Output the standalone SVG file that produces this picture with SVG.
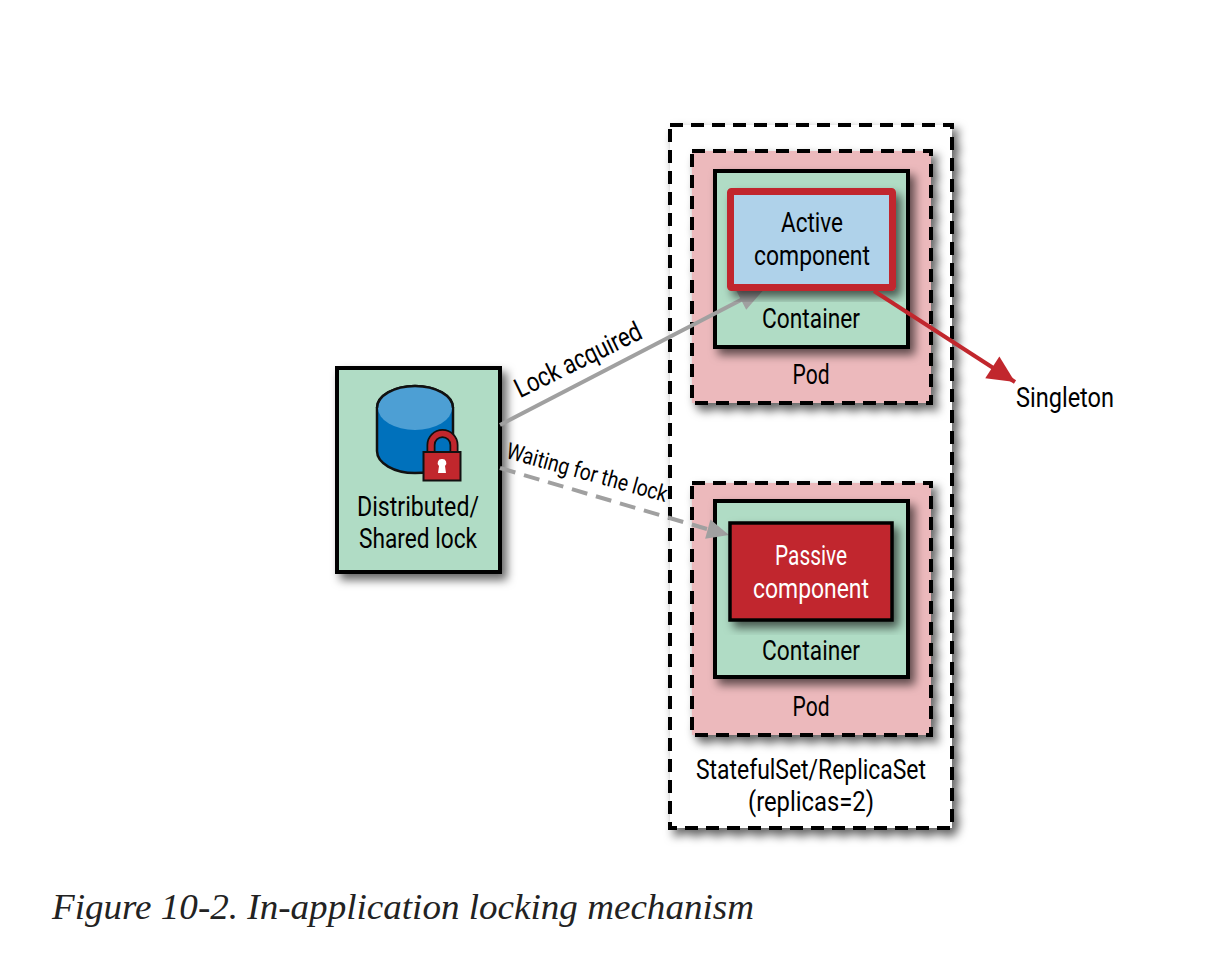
<svg xmlns="http://www.w3.org/2000/svg" width="1230" height="966" viewBox="0 0 1230 966">
<style>
.t{font-family:Roboto,"Open Sans",sans-serif;font-size:27px;fill:#000;text-anchor:middle}
.dash{stroke:#000;stroke-width:4;stroke-dasharray:13 8;filter:url(#sh)}
.solid{stroke:#000;stroke-width:4;filter:url(#sh)}
.g{fill:#b0dcc5}.p{fill:#ecb9bc}
</style>
<defs>
<filter id="sh" x="-15%" y="-15%" width="130%" height="130%"><feDropShadow dx="5" dy="6" stdDeviation="5" flood-color="#000" flood-opacity="0.6"/></filter>
<marker id="ag" markerUnits="userSpaceOnUse" markerWidth="32" markerHeight="28" refX="30" refY="14" orient="auto"><path d="M2 3L30 14L2 25Z" fill="#a0a0a0"/></marker>
<marker id="agd" markerUnits="userSpaceOnUse" markerWidth="26" markerHeight="24" refX="24" refY="12" orient="auto"><path d="M2 2L24 12L2 22Z" fill="#a0a0a0"/></marker>
<marker id="ar" markerUnits="userSpaceOnUse" markerWidth="32" markerHeight="28" refX="30" refY="14" orient="auto"><path d="M3 1L30 14L3 27Z" fill="#c1272d"/></marker>
</defs>
<rect width="1230" height="966" fill="#fff"/>
<g id="replicaset"><rect x="670" y="125" width="282" height="703" fill="#fff" class="dash"/>
<text class="t" x="811" y="779" textLength="230" lengthAdjust="spacingAndGlyphs">StatefulSet/ReplicaSet</text>
<text class="t" x="811" y="811" textLength="126" lengthAdjust="spacingAndGlyphs">(replicas=2)</text></g>
<g id="pod1"><rect x="692" y="151" width="239" height="252" class="p dash"/>
<text class="t" x="811" y="384" textLength="37" lengthAdjust="spacingAndGlyphs">Pod</text></g>
<g id="container1"><rect x="715" y="171" width="193" height="176" class="g solid"/>
<text class="t" x="811" y="328" textLength="98" lengthAdjust="spacingAndGlyphs">Container</text></g>
<g id="pod2"><rect x="692" y="483" width="239" height="252" class="p dash"/>
<text class="t" x="811" y="716" textLength="37" lengthAdjust="spacingAndGlyphs">Pod</text></g>
<g id="container2"><rect x="715" y="501" width="193" height="176" class="g solid"/>
<text class="t" x="811" y="660" textLength="98" lengthAdjust="spacingAndGlyphs">Container</text></g>
<g id="lock"><rect x="337" y="368" width="163" height="204" class="g solid"/>
<path d="M377 408A38 22 0 0 1 453 408V451A38 22 0 0 1 377 451Z" fill="#0071bc" stroke="#111" stroke-width="2.500"/>
<ellipse cx="415" cy="408" rx="37" ry="22" fill="#4d9fd4"/>
<path d="M377 408A38 22 0 0 1 453 408" fill="none" stroke="#111" stroke-width="2.500"/>
<path d="M431 453V445A11.500 11.500 0 0 1 454 445V453" fill="none" stroke="#111" stroke-width="9"/>
<path d="M431 453V445A11.500 11.500 0 0 1 454 445V453" fill="none" stroke="#c1272d" stroke-width="5.500"/>
<rect x="423.500" y="452" width="37" height="28.500" fill="#c1272d" stroke="#111" stroke-width="2"/>
<path d="M442 459a4 4 0 0 1 3 7l1 7h-8l1-7a4 4 0 0 1 3-7Z" fill="#fff"/>
<text class="t" x="418" y="516" textLength="122" lengthAdjust="spacingAndGlyphs">Distributed/</text>
<text class="t" x="418" y="548" textLength="118" lengthAdjust="spacingAndGlyphs">Shared lock</text></g>
<g id="connectors" fill="none">
<path d="M500 425L766 287" stroke="#a0a0a0" stroke-width="4" marker-end="url(#ag)"/>
<path d="M500 468L707 529" stroke="#a0a0a0" stroke-width="4" stroke-dasharray="16 9"/>
<path d="M700 527L729 535" stroke="none" marker-end="url(#agd)"/>
</g>
<g id="active"><rect x="730.500" y="191.500" width="162" height="96" rx="1" fill="#afd2ea" stroke="#c1272d" stroke-width="7" filter="url(#sh)"/>
<text class="t" x="812" y="232" textLength="62" lengthAdjust="spacingAndGlyphs">Active</text>
<text class="t" x="812" y="265" textLength="116" lengthAdjust="spacingAndGlyphs">component</text></g>
<g id="passive"><rect x="730" y="523" width="162" height="97" fill="#c1272d" stroke="#000" stroke-width="3.500" filter="url(#sh)"/>
<text class="t" x="811" y="565" textLength="72" lengthAdjust="spacingAndGlyphs" style="fill:#fff">Passive</text>
<text class="t" x="811" y="598" textLength="116" lengthAdjust="spacingAndGlyphs" style="fill:#fff">component</text></g>
<g id="connector-singleton" fill="none">
<path d="M874 291L1015 382" stroke="#c1272d" stroke-width="4" marker-end="url(#ar)"/>
</g>
<text class="t" transform="translate(582 368) rotate(-26)" textLength="138" lengthAdjust="spacingAndGlyphs">Lock acquired</text>
<text class="t" transform="translate(585 480) rotate(15.500)" textLength="166" lengthAdjust="spacingAndGlyphs" style="font-size:23px">Waiting for the lock</text>
<text class="t" x="1065" y="407" textLength="98" lengthAdjust="spacingAndGlyphs">Singleton</text>
<text x="52" y="919" font-family="Liberation Serif,serif" font-style="italic" font-size="35" fill="#222" textLength="702" lengthAdjust="spacingAndGlyphs">Figure 10-2. In-application locking mechanism</text>
</svg>
